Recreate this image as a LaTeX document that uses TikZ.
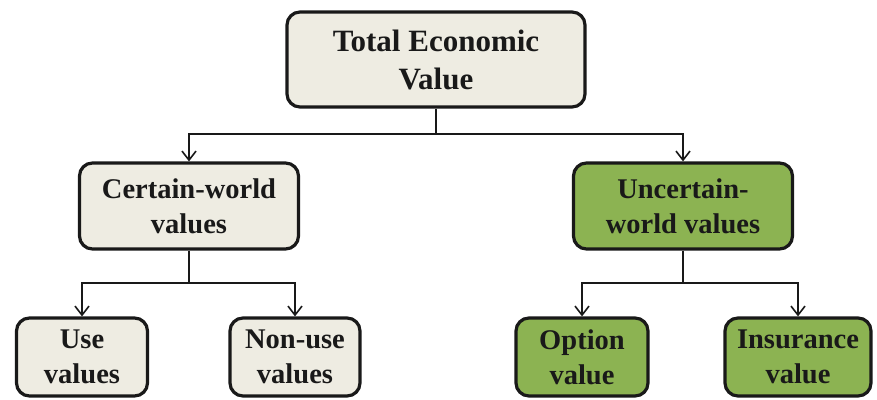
\documentclass[tikz,border=0pt]{standalone}
\usepackage{fontspec}
\setmainfont{Liberation Serif}
\usetikzlibrary{arrows.meta}
\definecolor{beige}{RGB}{238,236,226}
\definecolor{leaf}{RGB}{140,179,82}
\definecolor{ink}{RGB}{25,25,25}
\begin{document}
\begin{tikzpicture}[x=1pt,y=1pt,
  box/.style={draw=ink,line width=3.2pt,rounded corners=13pt,align=center,
    font=\fontsize{28.5}{35}\selectfont\bfseries,text=ink,inner sep=0pt},
  plain/.style={box,fill=beige},
  green/.style={box,fill=leaf},
  link/.style={draw=ink,line width=1.8pt},
  arr/.style={link,-{Straight Barb[length=9pt,width=14pt,line width=1.6pt]}}]
\useasboundingbox[fill=white] (0,0) rectangle (877,399);
\node[plain,minimum width=298pt,minimum height=95pt,font=\fontsize{31}{38}\selectfont\bfseries] (tev) at (436,339.5) {Total Economic\\Value};
\node[plain,minimum width=219pt,minimum height=86pt] (cw) at (189,193) {Certain-world\\values};
\node[green,minimum width=219pt,minimum height=86pt] (uw) at (683,193) {Uncertain-\\world values};
\node[plain,minimum width=131pt,minimum height=78pt] (use) at (82,42) {Use\\values};
\node[plain,minimum width=130pt,minimum height=78pt] (nonuse) at (295,42) {Non-use\\values};
\node[green,minimum width=132pt,minimum height=78pt] (opt) at (582,42) {Option\\value};
\node[green,minimum width=146pt,minimum height=78pt] (ins) at (798,42) {Insurance\\value};
\coordinate (j1) at (436,265);
\coordinate (j2) at (189,116);
\coordinate (j3) at (683,116);
\draw[link] (tev) -- (j1);
\draw[arr] (j1) -| (cw);
\draw[arr] (j1) -| (uw);
\draw[link] (cw) -- (j2);
\draw[arr] (j2) -| (use);
\draw[arr] (j2) -| (nonuse);
\draw[link] (uw) -- (j3);
\draw[arr] (j3) -| (opt);
\draw[arr] (j3) -| (ins);
\end{tikzpicture}
\end{document}
